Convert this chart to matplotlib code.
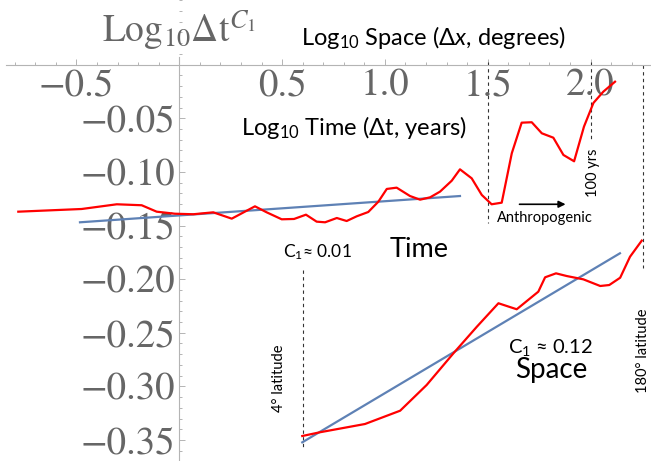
import numpy as np
import matplotlib
matplotlib.use('Agg')
import matplotlib.pyplot as plt
from matplotlib.ticker import MultipleLocator, FixedLocator

plt.rcParams['mathtext.fontset'] = 'custom'
plt.rcParams['mathtext.rm'] = 'Lato'
plt.rcParams['mathtext.it'] = 'Lato:italic'
plt.rcParams['mathtext.bf'] = 'Lato:bold'
plt.rcParams['mathtext.fallback'] = 'stix'

# time analysis: log10 dt (years) vs log10 dt^C1
time_x = [-0.783, -0.475, -0.304, -0.183, -0.110, -0.021, 0.068, 0.165, 0.255, 0.368,
          0.425, 0.498, 0.558, 0.616, 0.668, 0.709, 0.766, 0.814, 0.863, 0.919,
          0.968, 1.009, 1.057, 1.122, 1.171, 1.220, 1.268, 1.325, 1.365, 1.422,
          1.471, 1.519, 1.568, 1.617, 1.665, 1.714, 1.763, 1.819, 1.868, 1.920,
          1.968, 2.014, 2.062, 2.119]
time_y = [-0.1371, -0.1346, -0.1302, -0.1311, -0.1371, -0.1390, -0.1395, -0.1377, -0.1436, -0.1321,
          -0.1377, -0.1442, -0.1439, -0.1399, -0.1464, -0.1470, -0.1430, -0.1458, -0.1414, -0.1374,
          -0.1278, -0.1159, -0.1147, -0.1225, -0.1259, -0.1237, -0.1184, -0.1082, -0.0976, -0.1060,
          -0.1215, -0.1302, -0.1287, -0.0826, -0.0541, -0.0537, -0.0640, -0.0681, -0.0842, -0.0901,
          -0.0578, -0.0357, -0.0252, -0.0159]
time_fit_x = [-0.483, 1.365]
time_fit_y = [-0.1470, -0.1225]

# space analysis: log10 dx (degrees)
space_x = [0.598, 0.684, 0.903, 1.074, 1.203, 1.333, 1.447, 1.552, 1.641, 1.746,
           1.779, 1.832, 1.884, 1.965, 2.047, 2.091, 2.144, 2.192, 2.249]
space_y = [-0.3463, -0.3428, -0.3351, -0.3227, -0.2987, -0.2692, -0.2444, -0.2225, -0.2281, -0.2117,
           -0.1983, -0.1946, -0.1971, -0.2002, -0.2064, -0.2055, -0.1987, -0.1791, -0.1641]
space_fit_x = [0.598, 2.143]
space_fit_y = [-0.3522, -0.1759]

# dashed reference lines: (x, y_top, y_bottom)
ref_x = [np.log10(4), 1.5, 2.0, np.log10(180)]
ref_top = [-0.1915, 0.0025, 0.0025, 0.0]
ref_bottom = [-0.3595, -0.1477, -0.0702, -0.1896]

x_ticks = [-0.5, 0.5, 1.0, 1.5, 2.0]
y_ticks = [-0.05, -0.10, -0.15, -0.20, -0.25, -0.30, -0.35]

W, H = 651, 461
fig = plt.figure(figsize=(W / 100, H / 100), dpi=100)
ax = fig.add_axes([0, 0, 1, 1])
ax.set_xlim(-0.872, 2.294)
ax.set_ylim(-0.3696, 0.0603)

gray = '#b4b4b4'
label_gray = '#666666'
ax.spines['top'].set_visible(False)
ax.spines['right'].set_visible(False)
ax.spines['left'].set_position(('data', 0))
ax.spines['bottom'].set_position(('data', 0))
for s in ['left', 'bottom']:
    ax.spines[s].set_color(gray)
    ax.spines[s].set_linewidth(0.8)
ax.spines['bottom'].set_bounds(-0.843, 2.294)
ax.spines['left'].set_bounds(-0.3696, 0.0072)

ax.xaxis.set_major_locator(FixedLocator(x_ticks))
ax.xaxis.set_minor_locator(MultipleLocator(0.1))
ax.yaxis.set_major_locator(FixedLocator(y_ticks))
ax.yaxis.set_minor_locator(MultipleLocator(0.01))
ax.set_xticklabels(['\u2212%.1f' % abs(v) if v < 0 else '%.1f' % v for v in x_ticks])
ax.set_yticklabels(['\u2212%.2f' % abs(v) for v in y_ticks])
ax.tick_params(which='both', direction='in', color=gray, width=0.7)
ax.tick_params(which='major', length=4.5, pad=3, labelsize=28, labelcolor=label_gray)
ax.tick_params(which='minor', length=2.5)
for lab in ax.get_xticklabels() + ax.get_yticklabels():
    lab.set_family('STIXGeneral')

for xv, y0, y1 in zip(ref_x, ref_top, ref_bottom):
    ax.plot([xv, xv], [y0, y1], color='#333333', lw=0.8, ls=(0, (3, 3)), zorder=2)

ax.plot(time_x, time_y, color='red', lw=1.6, zorder=4)
ax.plot(time_fit_x, time_fit_y, color='#5e81b5', lw=1.6, zorder=3)
ax.plot(space_x, space_y, color='red', lw=1.6, zorder=4)
ax.plot(space_fit_x, space_fit_y, color='#5e81b5', lw=1.6, zorder=3)

ax.annotate('', xy=(1.892, -0.1302), xytext=(1.641, -0.1302),
            arrowprops=dict(arrowstyle='-|>', color='black', lw=1.2, mutation_scale=10))


def put(px, py, s, size, **kw):
    fig.text(px / W, 1 - py / H, s, fontsize=size, family=['Lato', 'DejaVu Sans'], **kw)


fig.text(102 / W, 1 - 42 / H, r'$\mathrm{Log}_{10}\Delta\mathrm{t}^{C_1}$', fontsize=27,
         color=label_gray, math_fontfamily='stix', va='baseline')
put(301, 45, r'Log$_{10}$ Space ($\Delta\mathit{x}$, degrees)', 17, va='baseline')
put(241, 135, r'Log$_{10}$ Time ($\Delta$t, years)', 17, va='baseline')
put(283, 257, 'C$_1$\u2248 0.01', 12.5, va='baseline')
put(390, 257, 'Time', 19.5, va='baseline')
put(508, 353, 'C$_1$ \u2248 0.12', 14.5, va='baseline')
put(515, 378, 'Space', 20, va='baseline')
put(497, 222, 'Anthropogenic', 10.5, va='baseline')
put(593, 173, '100 yrs', 10.5, rotation=90, ha='center', va='center')
put(279, 378, '4\u00b0 latitude', 10.5, rotation=90, ha='center', va='center')
put(643, 351, '180\u00b0 latitude', 10.5, rotation=90, ha='center', va='center')

fig.savefig('out.png', dpi=100)
